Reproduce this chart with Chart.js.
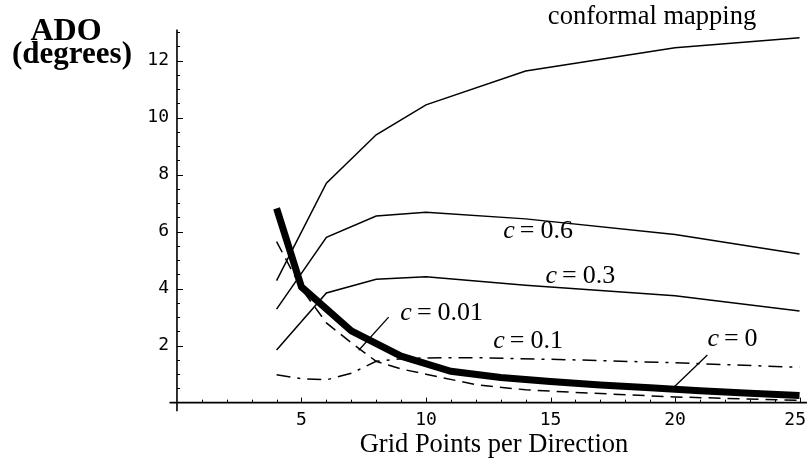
<!DOCTYPE html>
<html>
<head>
<meta charset="utf-8">
<script src="https://cdn.jsdelivr.net/npm/chart.js@4/dist/chart.umd.min.js"></script>
<style>
  html, body { margin: 0; padding: 0; background: #fff; }
  #wrap { width: 807px; height: 462px; }
</style>
</head>
<body>
<div id="wrap"><canvas id="adoChart" width="807" height="462"></canvas></div>
<script>
// ── DATA ─────────────────────────────────────────────
const xTicks = [5, 10, 15, 20, 25];
const yTicks = [2, 4, 6, 8, 10, 12];

const conformalX = [4, 6, 8, 10, 14, 20, 25];
const conformalY = [4.28, 7.7, 9.4, 10.45, 11.64, 12.46, 12.81];

const c06X = [4, 6, 8, 10, 14, 20, 25];
const c06Y = [3.28, 5.8, 6.55, 6.68, 6.45, 5.9, 5.22];

const c03X = [4, 6, 8, 10, 14, 20, 25];
const c03Y = [1.85, 3.85, 4.33, 4.42, 4.12, 3.75, 3.22];

const c01X = [4, 5, 6, 7, 8, 9, 10, 12, 16, 20, 25];
const c01Y = [0.98, 0.84, 0.8, 1.03, 1.45, 1.54, 1.57, 1.58, 1.5, 1.4, 1.24];

const c001X = [4, 5, 6, 7, 8, 9, 10, 12, 14, 16, 20, 25];
const c001Y = [5.65, 4.0, 2.8, 2.1, 1.45, 1.18, 1.0, 0.63, 0.45, 0.36, 0.2, 0.08];

const c0X = [4, 5, 7, 9, 11, 13, 15, 17, 19, 21, 23, 25];
const c0Y = [6.82, 4.06, 2.52, 1.63, 1.1, 0.88, 0.74, 0.62, 0.52, 0.42, 0.33, 0.25];

// leader lines from labels to curves
const leader001X = [8.5, 7.3];
const leader001Y = [3.0, 1.84];
const leader0X = [21.3, 19.9];
const leader0Y = [1.67, 0.5];

// curve labels: [value text, x, y]
const curveLabels = [
  ['0.6', 13.1, 6.05],
  ['0.3', 14.8, 4.48],
  ['0.01', 8.97, 3.17],
  ['0.1', 12.7, 2.2],
  ['0', 21.3, 2.27]
];

const pts = (xs, ys) => xs.map((x, i) => ({ x, y: ys[i] }));

const line = (data, extra) => Object.assign({
  data,
  borderColor: '#000',
  borderWidth: 1.5,
  pointRadius: 0,
  tension: 0,
  fill: false,
  clip: false
}, extra);

// ── AXES + TEXT PLUGIN ───────────────────────────────
const axesPlugin = {
  id: 'mathAxes',
  beforeDatasetsDraw(chart) {
    const { ctx, scales: { x, y } } = chart;
    const x0 = x.getPixelForValue(0);
    const y0 = y.getPixelForValue(0);
    ctx.save();
    ctx.strokeStyle = '#000';
    ctx.lineWidth = 1.6;
    ctx.beginPath();
    ctx.moveTo(x.left, y0); ctx.lineTo(x.right, y0);
    ctx.moveTo(x0, y.top); ctx.lineTo(x0, y.bottom);
    ctx.stroke();

    ctx.lineWidth = 1;
    ctx.beginPath();
    for (let v = 1; v <= 25; v++) {
      const px = Math.round(x.getPixelForValue(v)) + 0.5;
      const len = v % 5 === 0 ? 5 : 3;
      ctx.moveTo(px, y0); ctx.lineTo(px, y0 - len);
    }
    for (let v = 0.5; v <= 13; v += 0.5) {
      const py = Math.round(y.getPixelForValue(v)) + 0.5;
      const len = v % 2 === 0 ? 6 : 3;
      ctx.moveTo(x0, py); ctx.lineTo(x0 + len, py);
    }
    ctx.stroke();

    ctx.fillStyle = '#000';
    ctx.font = '18px "DejaVu Sans Mono"';
    ctx.textAlign = 'center';
    ctx.textBaseline = 'top';
    xTicks.forEach(v => {
      const w = ctx.measureText(String(v)).width;
      const px = Math.min(x.getPixelForValue(v), chart.width - 1 - w / 2);
      ctx.fillText(String(v), px, y0 + 9);
    });
    ctx.textAlign = 'right';
    ctx.textBaseline = 'middle';
    yTicks.forEach(v => ctx.fillText(String(v), x0 - 8, y.getPixelForValue(v)));
    ctx.restore();
  },
  afterDraw(chart) {
    const { ctx, scales: { x, y } } = chart;
    ctx.save();
    ctx.fillStyle = '#000';
    ctx.textBaseline = 'alphabetic';

    // axis titles
    ctx.textAlign = 'center';
    ctx.font = 'bold 32px "Liberation Serif"';
    ctx.fillText('ADO', 66, 40);
    ctx.font = 'bold 31px "Liberation Serif"';
    ctx.fillText('(degrees)', 72, 63);
    ctx.font = '26.5px "Liberation Serif"';
    ctx.fillText('Grid Points per Direction', 494, 452);
    ctx.fillText('conformal mapping', 652, 24);

    // curve labels: italic c, wide-spaced "=", value
    ctx.textAlign = 'left';
    ctx.textBaseline = 'middle';
    curveLabels.forEach(([val, lx, ly]) => {
      let px = x.getPixelForValue(lx);
      const py = y.getPixelForValue(ly) + 1;
      ctx.font = 'italic 26px "Liberation Serif"';
      ctx.fillText('c', px, py);
      px += ctx.measureText('c').width + 5;
      ctx.font = '26px "Liberation Serif"';
      ctx.fillText('=', px, py);
      px += ctx.measureText('=').width + 6;
      ctx.fillText(val, px, py);
    });
    ctx.restore();
  }
};

// ── CHART ────────────────────────────────────────────
new Chart(document.getElementById('adoChart'), {
  type: 'line',
  data: {
    datasets: [
      line(pts(conformalX, conformalY)),
      line(pts(c06X, c06Y)),
      line(pts(c03X, c03Y)),
      line(pts(c01X, c01Y), { borderDash: [14, 7, 3, 7] }),
      line(pts(c001X, c001Y), { borderDash: [12, 7] }),
      line(pts(c0X, c0Y), { borderWidth: 7, borderJoinStyle: 'miter' }),
      line(pts(leader001X, leader001Y), { borderWidth: 1.3 }),
      line(pts(leader0X, leader0Y), { borderWidth: 1.3 })
    ]
  },
  options: {
    responsive: false,
    animation: false,
    events: [],
    layout: { padding: { left: 169.5, right: 0, top: 29.4, bottom: 50.8 } },
    plugins: { legend: { display: false }, tooltip: { enabled: false } },
    scales: {
      x: { type: 'linear', min: -0.3, max: 25.3, display: false },
      y: { type: 'linear', min: -0.3, max: 13.1, display: false }
    }
  },
  plugins: [axesPlugin]
});
</script>
</body>
</html>
